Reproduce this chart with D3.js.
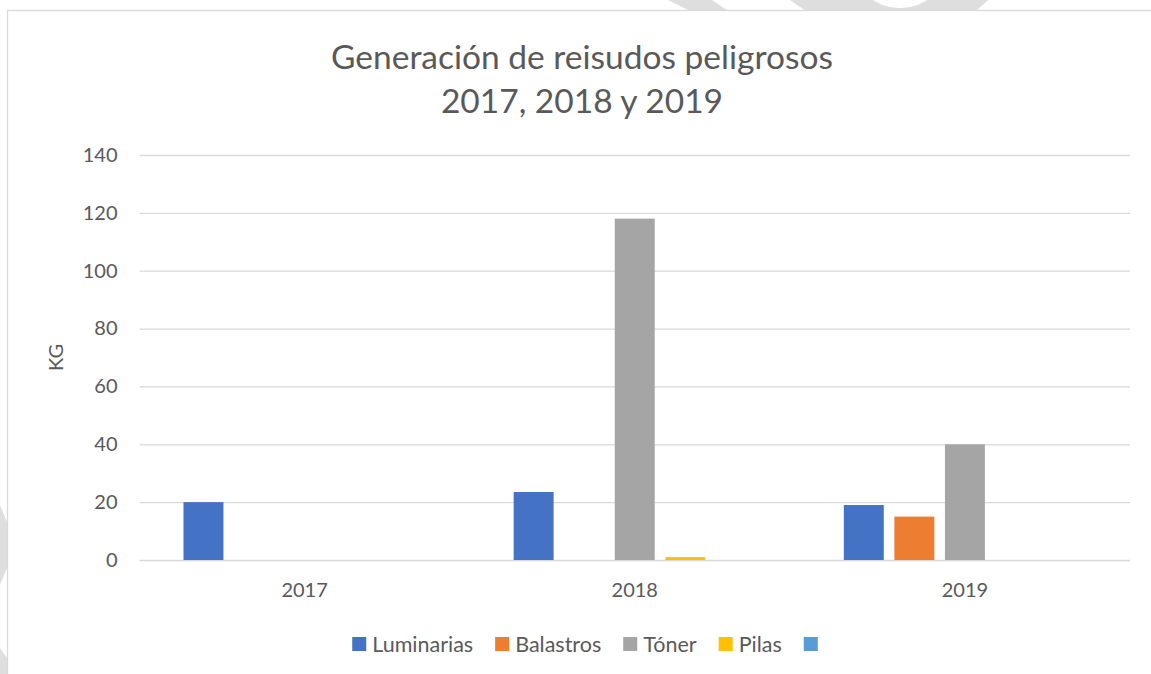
<!DOCTYPE html>
<html>
<head>
<meta charset="utf-8">
<script src="https://cdn.jsdelivr.net/npm/d3@7"></script>
<style>
  body { margin: 0; background: #fff; }
  svg text { font-family: Lato, "Open Sans", sans-serif; fill: #595959; }
</style>
</head>
<body>
<svg id="chart" width="1151" height="674"></svg>
<script>
// Categories, series and axis ticks
const years = ["2017", "2018", "2019"];
const seriesNames = ["Luminarias", "Balastros", "Tóner", "Pilas", ""];
const luminarias = [20, 23.5, 19];
const balastros = [0, 0, 15];
const toner = [0, 118, 40];
const pilas = [0, 1, 0];
const serie5 = [0, 0, 0];
const yTicks = [0, 20, 40, 60, 80, 100, 120, 140];
const colors = ["#4472C4", "#ED7D31", "#A5A5A5", "#FFC000", "#5B9BD5"];
const titleLines = ["Generación de reisudos peligrosos", "2017, 2018 y 2019"];
const yTitle = "KG";

const seriesValues = [luminarias, balastros, toner, pilas, serie5];
const rows = [];
years.forEach((yr, i) => {
  seriesValues.forEach((vals, s) => rows.push({ year: yr, s: s, value: vals[i] }));
});

const svg = d3.select("#chart");
const W = 1151, H = 674;

// faint page shapes behind the chart frame
const bg = svg.append("g").attr("fill", "#dedede");
bg.append("polygon").attr("points", "668,0 712,0 728,11 690,11");
bg.append("polygon").attr("points", "790,0 988,0 976,11 806,11");
bg.append("circle").attr("cx", 900).attr("cy", -42).attr("r", 50).attr("fill", "#fff");
bg.append("polygon").attr("points", "0,505 7,522 7,568 0,585");
bg.append("polygon").attr("points", "0,648 7,658 7,674 0,674");

// chart area
svg.append("rect")
  .attr("x", 7.5).attr("y", 10.5)
  .attr("width", W + 20).attr("height", H + 20)
  .attr("fill", "#fff").attr("stroke", "#d9d9d9").attr("stroke-width", 1.3);

const plot = { left: 139.5, right: 1130, top: 155, bottom: 560 };

const x0 = d3.scaleBand().domain(years).range([plot.left, plot.right]).padding(0);
const x1 = d3.scaleBand().domain(d3.range(seriesNames.length))
  .range([0, x0.bandwidth()]).paddingInner(0.21).paddingOuter(0.87);
const y = d3.scaleLinear().domain([0, 140]).range([plot.bottom, plot.top]);

// gridlines
const grid = svg.append("g")
  .attr("transform", `translate(${plot.left},0)`)
  .call(d3.axisLeft(y).tickValues(yTicks).tickSize(-(plot.right - plot.left)).tickFormat(""));
grid.select(".domain").remove();
grid.selectAll("line").attr("stroke", "#d9d9d9").attr("stroke-width", 1.3);

// y labels
const yAxis = svg.append("g")
  .attr("transform", `translate(${plot.left},0)`)
  .call(d3.axisLeft(y).tickValues(yTicks).tickSize(0).tickPadding(22));
yAxis.select(".domain").remove();
yAxis.selectAll("text").style("font-size", "20px").attr("fill", "#595959");

// x labels
const xAxis = svg.append("g")
  .attr("transform", `translate(0,${plot.bottom})`)
  .call(d3.axisBottom(x0).tickSize(0));
xAxis.select(".domain").remove();
xAxis.selectAll("text").style("font-size", "20px").attr("fill", "#595959")
  .attr("y", 37).attr("dy", 0);

// bars
svg.append("g").selectAll("rect")
  .data(rows)
  .join("rect")
  .attr("x", d => x0(d.year) + x1(d.s))
  .attr("width", x1.bandwidth())
  .attr("y", d => y(d.value))
  .attr("height", d => y(0) - y(d.value))
  .attr("fill", d => colors[d.s]);

// title
const title = svg.append("text")
  .attr("text-anchor", "middle")
  .style("font-size", "33.5px");
titleLines.forEach((t, i) => {
  title.append("tspan").attr("x", 582).attr("y", 69 + i * 44).text(t);
});

// y axis title
svg.append("text")
  .attr("transform", `translate(63,${(plot.top + plot.bottom) / 2}) rotate(-90)`)
  .attr("text-anchor", "middle")
  .style("font-size", "20px")
  .text(yTitle);

// legend
const legend = svg.append("g");
const items = legend.selectAll("g").data(seriesNames).join("g");
items.append("rect").attr("width", 14).attr("height", 14).attr("y", -7)
  .attr("fill", (d, i) => colors[i]);
items.append("text").attr("x", 20).attr("dy", "0.35em")
  .style("font-size", "21.5px").text(d => d);
let cx = 0;
items.each(function () {
  const g = d3.select(this);
  const tw = g.select("text").node().getComputedTextLength();
  g.attr("transform", `translate(${cx},0)`);
  cx += 20 + tw + 22;
});
const legendWidth = cx - 22 - 6;
legend.attr("transform", `translate(${585 - legendWidth / 2},644)`);
</script>
</body>
</html>
